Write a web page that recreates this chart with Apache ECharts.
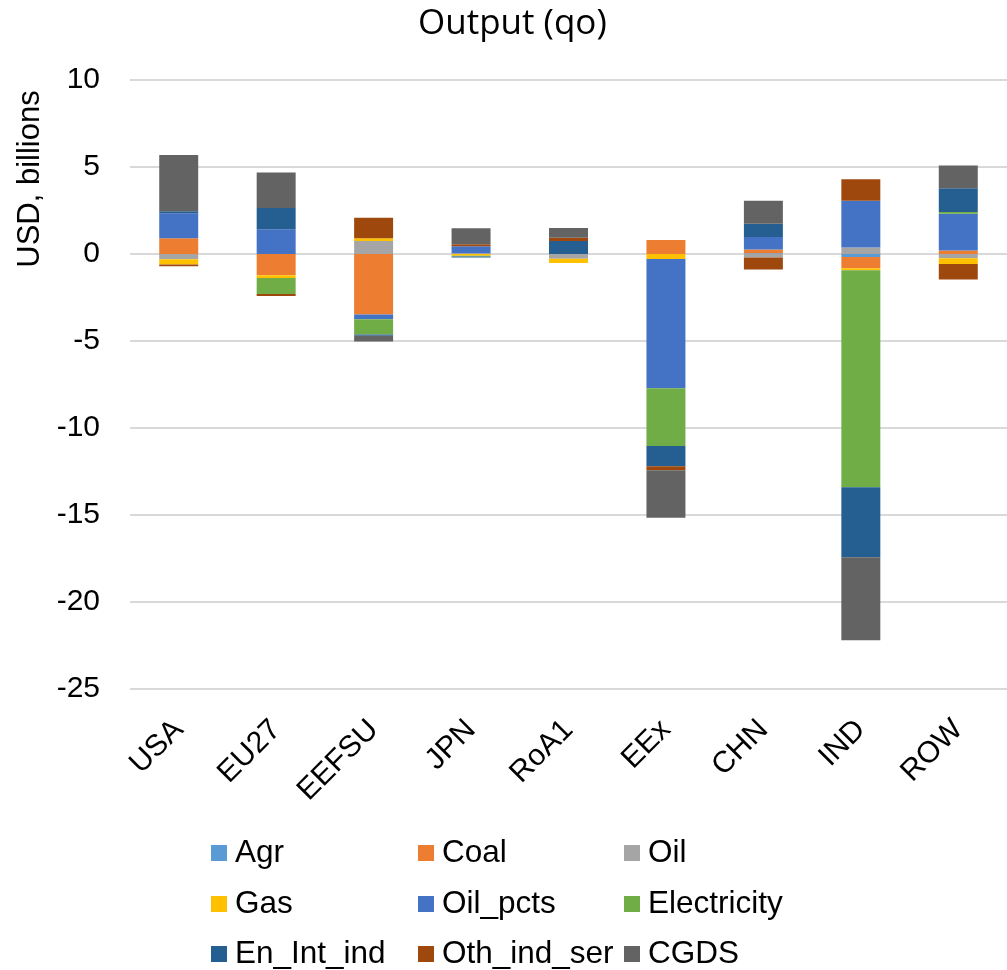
<!DOCTYPE html>
<html>
<head>
<meta charset="utf-8">
<title>Output (qo)</title>
<script src="https://cdn.jsdelivr.net/npm/echarts@6/dist/echarts.min.js"></script>
<style>
  html, body { margin: 0; padding: 0; background: #fff; }
  #chart { width: 1007px; height: 970px; }
</style>
</head>
<body>
<div id="chart"></div>
<script>
// Regions on the category axis
const regions = ['USA', 'EU27', 'EEFSU', 'JPN', 'RoA1', 'EEx', 'CHN', 'IND', 'ROW'];

// Change in output by sector, USD billions (one value per region)
const agr        = [0,     0,     0,     0,     0,     0,     0.05, -0.17,  0];
const coal       = [0.90, -1.22, -3.48,  0,     0,     0.80,  0.21, -0.65,  0.20];
const oil        = [-0.30, 0,     0.75,  0.05, -0.27,  0,    -0.20,  0.38, -0.25];
const gas        = [-0.30, -0.16, 0.15, -0.10, -0.25, -0.29,  0,    -0.12, -0.33];
const oilPcts    = [1.44,  1.42, -0.27,  0.40,  0,    -7.43,  0.71,  2.68,  2.11];
const electricity= [0,    -0.92, -0.88, -0.05,  0,    -3.31,  0,   -12.47,  0.11];
const enIntInd   = [0.11,  1.22, -0.07, -0.05,  0.75, -1.17,  0.77, -4.02,  1.36];
const othIndSer  = [-0.10, -0.12, 1.19,  0.11,  0.19, -0.23, -0.69,  1.23, -0.88];
const cgds       = [3.24,  2.04, -0.33,  0.92,  0.56, -2.73,  1.32, -4.77,  1.30];

// Value axis ticks
const yMin = -25, yMax = 10, yStep = 5;

const sectors = [
  { name: 'Agr',         data: agr,         color: '#5B9BD5' },
  { name: 'Coal',        data: coal,        color: '#ED7D31' },
  { name: 'Oil',         data: oil,         color: '#A5A5A5' },
  { name: 'Gas',         data: gas,         color: '#FFC000' },
  { name: 'Oil_pcts',    data: oilPcts,     color: '#4472C4' },
  { name: 'Electricity', data: electricity, color: '#70AD47' },
  { name: 'En_Int_ind',  data: enIntInd,    color: '#255E91' },
  { name: 'Oth_ind_ser', data: othIndSer,   color: '#9E480E' },
  { name: 'CGDS',        data: cgds,        color: '#636363' }
];

const FONT = '"Liberation Sans", Arial, sans-serif';

// Legend laid out as a 3x3 grid, filled row by row in series order
const legendCols = [211, 418, 624];
const legendRows = [837, 888, 938];
const legends = sectors.map((s, i) => ({
  left: legendCols[i % 3],
  top: legendRows[Math.floor(i / 3)],
  padding: 0,
  itemWidth: 16,
  itemHeight: 16,
  icon: 'rect',
  data: [s.name],
  selectedMode: false,
  textStyle: { fontFamily: FONT, fontSize: 31.5, color: '#000', lineHeight: 30, padding: [0, 0, 0, 3] }
}));

const chart = echarts.init(document.getElementById('chart'), null, { renderer: 'canvas' });

chart.setOption({
  backgroundColor: '#fff',
  animation: false,
  title: {
    text: 'Output (qo)',
    left: 413,
    top: 2,
    textStyle: { fontFamily: '"Open Sans", sans-serif', fontSize: 35, fontWeight: 'normal', color: '#000' }
  },
  graphic: [{
    type: 'text',
    x: 30,
    y: 179,
    rotation: Math.PI / 2,
    style: {
      text: 'USD, billions',
      fontFamily: FONT,
      fontSize: 31,
      fill: '#000',
      align: 'center',
      verticalAlign: 'middle'
    }
  }],
  legend: legends,
  grid: { left: 130, top: 80, width: 886, height: 609, containLabel: false },
  xAxis: {
    type: 'category',
    data: regions,
    axisLine: { show: false },
    axisTick: { show: false },
    axisLabel: {
      rotate: 45,
      margin: 36,
      fontFamily: FONT,
      fontSize: 30,
      color: '#000'
    }
  },
  yAxis: {
    type: 'value',
    min: yMin,
    max: yMax,
    interval: yStep,
    axisLine: { show: false },
    axisTick: { show: false },
    axisLabel: { margin: 30, fontFamily: FONT, fontSize: 30, color: '#000' },
    splitLine: { lineStyle: { color: '#D9D9D9', width: 2 } }
  },
  series: sectors.map(s => ({
    name: s.name,
    type: 'bar',
    stack: 'total',
    barWidth: '40%',
    data: s.data,
    itemStyle: { color: s.color },
    emphasis: { disabled: true }
  }))
});
</script>
</body>
</html>
